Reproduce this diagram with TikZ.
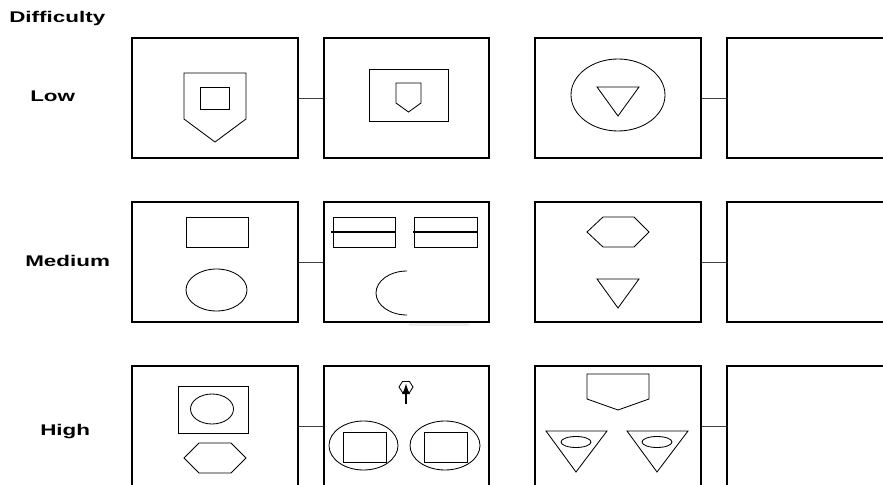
\documentclass[tikz,border=0pt]{standalone}
\usepackage{fontspec}
\setmainfont{Liberation Sans}
\usetikzlibrary{shapes,arrows,positioning}

\newcommand{\widen}[1]{\scalebox{1.45}[1]{#1}}

\begin{document}
\begin{tikzpicture}[x=0.025cm, y=-0.025cm,
            panel/.style={rectangle, draw, line width=1.4pt, minimum width=4.125cm, minimum height=3cm, inner sep=0pt},
            shp/.style={draw, line width=0.6pt},
            link/.style={line width=0.6pt, black!75},
            lbl/.style={font=\fontsize{11}{13}\selectfont\bfseries, anchor=base west, inner sep=0pt}
        ]
            \useasboundingbox (0,0) rectangle (883,485);
            \clip (0,0) rectangle (883,485);

            % Row labels
            \node[lbl] (difficulty) at (9,23) {\widen{Difficulty}};
            \node[lbl] (low) at (30,102) {\widen{Low}};
            \node[lbl] (medium) at (25,267) {\widen{Medium}};
            \node[lbl] (high) at (40,435) {\widen{High}};

            % Panels
            \node[panel] (low1) at (215,98) {};
            \node[panel] (low2) at (406.5,98) {};
            \node[panel] (low3) at (618,98) {};
            \node[panel] (low4) at (809.5,98) {};
            \node[panel] (med1) at (215,262) {};
            \node[panel] (med2) at (406.5,262) {};
            \node[panel] (med3) at (618,262) {};
            \node[panel] (med4) at (809.5,262) {};
            \node[panel] (high1) at (215,426) {};
            \node[panel] (high2) at (406.5,426) {};
            \node[panel] (high3) at (618,426) {};
            \node[panel] (high4) at (809.5,426) {};

            \draw[link] (low1) -- (low2);
            \draw[link] (low3) -- (low4);
            \draw[link] (med1) -- (med2);
            \draw[link] (med3) -- (med4);
            \draw[link] (high1) -- (high2);
            \draw[link] (high3) -- (high4);

            % Low
            \draw[shp] (184,73) -- (246,73) -- (246,119) -- (215,142) -- (184,119) -- cycle;
            \draw[shp] (200,87) rectangle (229,109);
            \draw[shp] (369,69) rectangle (448,121);
            \draw[shp] (396,83) -- (421,83) -- (421,103) -- (408.5,112) -- (396,103) -- cycle;
            \draw[shp] (618,95) ellipse [x radius=47, y radius=36];
            \draw[shp] (597,87) -- (639,87) -- (618,116) -- cycle;

            % Medium
            \draw[shp] (186,217) rectangle (248,247);
            \draw[shp] (216.5,290) ellipse [x radius=30.5, y radius=21];
            \draw[shp] (333,217) rectangle (395,247);
            \draw[shp] (414,217) rectangle (477,247);
            \draw[line width=1.4pt] (331,232) -- (396,232);
            \draw[line width=1.4pt] (413,232) -- (478,232);
            \draw[shp] (407,271) arc[start angle=90, end angle=270, x radius=0.775cm, y radius=0.55cm];
            \draw[black!7, line width=2.5pt, line cap=round] (410,324.5) -- (468,324.5);
            \draw[shp] (587,232) -- (603,217) -- (634,217) -- (649,232) -- (634,247) -- (603,247) -- cycle;
            \draw[shp] (597,279) -- (639,279) -- (618,308) -- cycle;

            % High
            \draw[shp] (178,386) rectangle (248,433);
            \draw[shp] (212,409) ellipse [x radius=21.5, y radius=15];
            \draw[shp] (184,458) -- (199,443) -- (231,443) -- (246,458) -- (231,473) -- (199,473) -- cycle;
            \draw[shp] (399,387) -- (402.5,381.5) -- (409.5,381.5) -- (413,387) -- (409.5,392.5) -- (402.5,392.5) -- cycle;
            \draw[line width=1.6pt, -latex] (406,404) -- (406,383.5);
            \draw[shp] (363.5,445.5) ellipse [x radius=34.5, y radius=24.5];
            \draw[shp] (343,432) rectangle (386,462);
            \draw[shp] (445,445.5) ellipse [x radius=35, y radius=24.5];
            \draw[shp] (424,432) rectangle (467,462);
            \draw[shp] (587,374) -- (649,374) -- (649,399) -- (618,410) -- (587,399) -- cycle;
            \draw[shp] (546,431) -- (607,431) -- (576,472) -- cycle;
            \draw[shp] (576,442) ellipse [x radius=15, y radius=5.5];
            \draw[shp] (627,431) -- (688,431) -- (657,472) -- cycle;
            \draw[shp] (657,442) ellipse [x radius=15, y radius=5.5];
        \end{tikzpicture}
\end{document}
